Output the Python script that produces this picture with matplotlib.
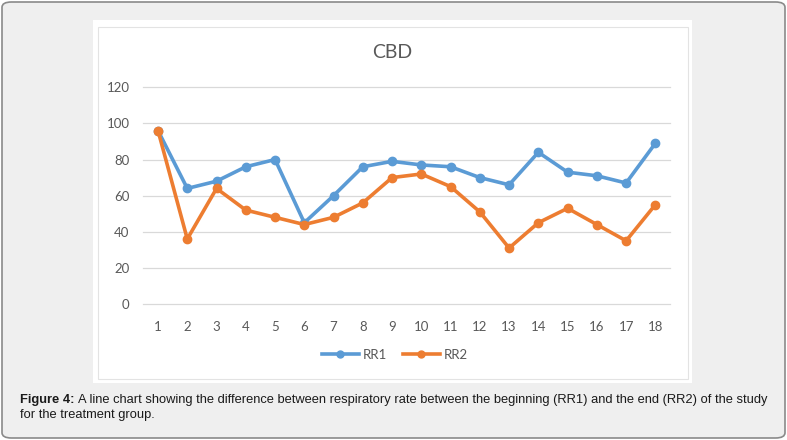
import matplotlib
matplotlib.use("Agg")
import matplotlib.pyplot as plt
from matplotlib.patches import FancyBboxPatch, Rectangle
from matplotlib.lines import Line2D

# data
days = list(range(1, 19))
rr1 = [96, 64, 68, 76, 80, 45, 60, 76, 79, 77, 76, 70, 66, 84, 73, 71, 67, 89]
rr2 = [96, 36, 64, 52, 48, 44, 48, 56, 70, 72, 65, 51, 31, 45, 53, 44, 35, 55]
yticks = [0, 20, 40, 60, 80, 100, 120]

W, H = 787, 440
blue = "#5B9BD5"
orange = "#ED7D31"
grey_txt = "#595959"

fig = plt.figure(figsize=(W / 100, H / 100), dpi=100)
fig.patch.set_facecolor("white")

# outer rounded frame
fig.patches.append(FancyBboxPatch((2 / W, 2 / H), (W - 4) / W, (H - 4) / H,
                                  boxstyle="round,pad=0,rounding_size=0.012",
                                  transform=fig.transFigure, facecolor="#efefef",
                                  edgecolor="#8a8a8a", linewidth=1.2, zorder=-3))
# white chart picture
fig.patches.append(Rectangle((93 / W, (H - 383) / H), (692 - 93) / W, (383 - 20) / H,
                             transform=fig.transFigure, facecolor="white",
                             edgecolor="none", zorder=-2))
fig.patches.append(Rectangle((98 / W, (H - 379) / H), (688 - 98) / W, (379 - 27) / H,
                             transform=fig.transFigure, facecolor="white",
                             edgecolor="#e3e3e3", linewidth=0.8, zorder=-1))

ax = fig.add_axes([143.4 / W, (H - 304) / H, (670 - 143.4) / W, (304 - 87.3) / H])
ax.set_zorder(2)
ax.set_facecolor("none")
ax.plot(days, rr1, color=blue, lw=2.6, marker="o", ms=6, zorder=3)
ax.plot(days, rr2, color=orange, lw=2.6, marker="o", ms=6, zorder=3)

ax.set_xlim(0.5, 18.5)
ax.set_ylim(0, 120)
ax.set_yticks(yticks)
ax.set_xticks(days)
ax.grid(axis="y", color="#d9d9d9", lw=0.9)
for gl in ax.get_ygridlines():
    gl.set_clip_on(False)
ax.set_axisbelow(True)
for s in ax.spines.values():
    s.set_visible(False)
ax.tick_params(length=0, labelsize=9.5, labelcolor=grey_txt)
ax.tick_params(axis="x", pad=12)
ax.tick_params(axis="y", pad=10)
for lab in ax.get_xticklabels() + ax.get_yticklabels():
    lab.set_family("Lato")

fig.text(392 / W, 1 - 52 / H, "CBD", ha="center", va="center", fontsize=14,
         color=grey_txt, family="Lato")

handles = [Line2D([], [], color=blue, lw=2.6, marker="o", ms=5),
           Line2D([], [], color=orange, lw=2.6, marker="o", ms=5)]
fig.legend(handles, ["RR1", "RR2"], loc="center", bbox_to_anchor=(395 / W, 1 - 355 / H),
           ncol=2, frameon=False, prop={"family": "Lato", "size": 9.5},
           labelcolor=grey_txt, handlelength=2.8, columnspacing=1.2, handletextpad=0.3)

# caption
cap_y = 1 - 400 / H
t1 = fig.text(20 / W, cap_y, "Figure 4:", fontsize=9.25, fontweight="bold",
              family="Liberation Sans", color="#1a1a1a", va="center")
fig.canvas.draw()
bb = t1.get_window_extent()
fig.text((bb.x1 + 3) / W, cap_y,
         "A line chart showing the difference between respiratory rate between the beginning "
         "(RR1) and the end (RR2) of the study",
         fontsize=9.25, family="Liberation Sans", color="#1a1a1a", va="center")
fig.text(20 / W, 1 - 415 / H, "for the treatment group.", fontsize=9.25,
         family="Liberation Sans", color="#1a1a1a", va="center")

fig.savefig("out.png", dpi=100)
